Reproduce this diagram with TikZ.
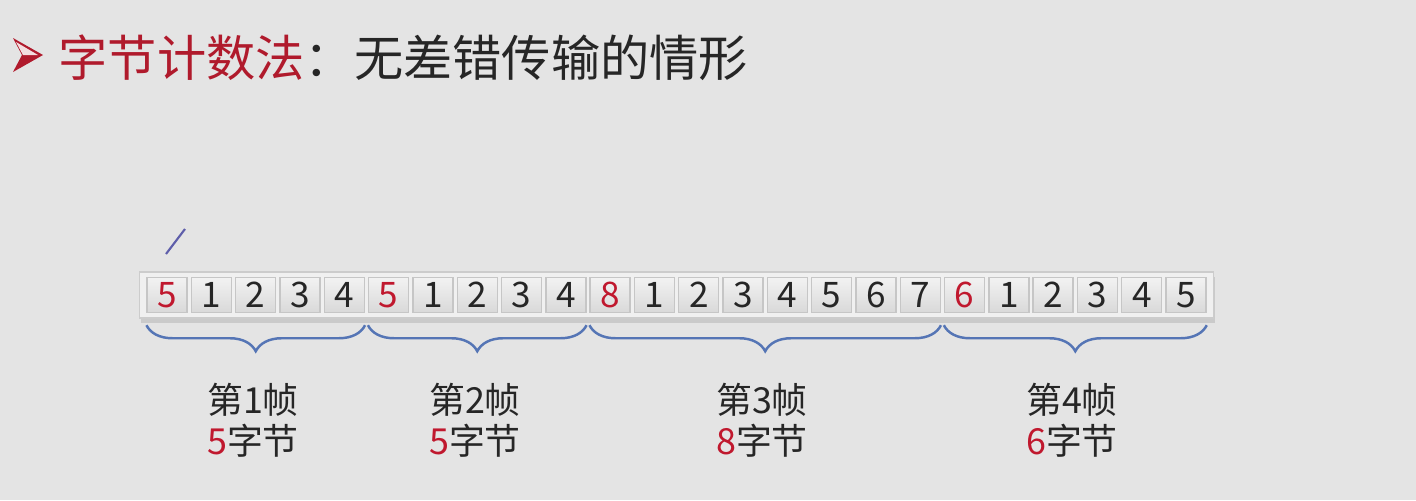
\documentclass[tikz,border=0pt]{standalone}
\usepackage{fontspec}
\setmainfont{Noto Sans CJK SC}
\usetikzlibrary{positioning,decorations.pathreplacing,shadows}

\definecolor{titlered}{HTML}{B01A2C}
\definecolor{numred}{HTML}{C0182E}
\definecolor{textdark}{HTML}{262626}
\definecolor{bracecol}{HTML}{5575B5}
\definecolor{bgcol}{HTML}{E4E4E4}

\tikzset{
	cell/.style={draw=gray!45, top color=gray!10, bottom color=gray!30, minimum width=0.40cm, minimum height=0.35cm, inner sep=0pt, text=textdark, font=\fontsize{10}{10}\selectfont},
	headcell/.style={cell, text=numred},
	framebrace/.style={draw=bracecol, line width=0.7pt, decorate, decoration={brace, mirror, amplitude=0.26cm}},
	framelabel/.style={align=center, text=textdark, font=\fontsize{10.2}{11.6}\selectfont},
}

\begin{document}
\begin{tikzpicture}[x=0.01cm, y=-0.01cm]
		\fill[bgcol] (0,0) rectangle (1416,500);
		\useasboundingbox (0,0) rectangle (1416,500);
		
		% title
		\fill[titlered] (13,38) -- (43,55) -- (13,72) -- (22,55) -- cycle;
		\fill[white!85!titlered] (16,42) -- (38,55) -- (23,55) -- cycle;
		\node[anchor=west, inner sep=0pt, font=\fontsize{14}{14}\selectfont] (title) at (58,58) {\textcolor{titlered}{字节计数法}\textcolor{textdark}{：无差错传输的情形}};
		
		% byte stream
		\node[draw=gray!40, fill=gray!12, minimum width=10.73cm, minimum height=0.46cm, drop shadow={shadow xshift=0.5pt, shadow yshift=-1.5pt, opacity=0.25}] (stream) at (676.5,295) {};
		\node[headcell] (c1) at ({145+0.5*44.3},295) {5};
		\foreach \v [count=\i from 2] in {1,2,3,4} \node[cell] (c\i) at ({145+(\i-0.5)*44.3},295) {\v};
		\node[headcell] (c6) at ({145+5.5*44.3},295) {5};
		\foreach \v [count=\i from 7] in {1,2,3,4} \node[cell] (c\i) at ({145+(\i-0.5)*44.3},295) {\v};
		\node[headcell] (c11) at ({145+10.5*44.3},295) {8};
		\foreach \v [count=\i from 12] in {1,2,3,4,5,6,7} \node[cell] (c\i) at ({145+(\i-0.5)*44.3},295) {\v};
		\node[headcell] (c19) at ({145+18.5*44.3},295) {6};
		\foreach \v [count=\i from 20] in {1,2,3,4,5} \node[cell] (c\i) at ({145+(\i-0.5)*44.3},295) {\v};
		
		% stray pen stroke
		\coordinate (pa) at (166,254);
		\coordinate (pb) at (185,229);
		\draw[bracecol!80!violet, line width=0.6pt] (pa) -- (pb);
		
		% braces
		\draw[framebrace] ([yshift=-0.12cm]c1.south west) -- ([yshift=-0.12cm]c5.south east);
		\draw[framebrace] ([yshift=-0.12cm]c6.south west) -- ([yshift=-0.12cm]c10.south east);
		\draw[framebrace] ([yshift=-0.12cm]c11.south west) -- ([yshift=-0.12cm]c18.south east);
		\draw[framebrace] ([yshift=-0.12cm]c19.south west) -- ([yshift=-0.12cm]c24.south east);
		
		% labels
		\node[framelabel] (f1) at (253,420) {第1帧\\\textcolor{numred}{5}字节};
		\node[framelabel] (f2) at (475,420) {第2帧\\\textcolor{numred}{5}字节};
		\node[framelabel] (f3) at (762,420) {第3帧\\\textcolor{numred}{8}字节};
		\node[framelabel] (f4) at (1072,420) {第4帧\\\textcolor{numred}{6}字节};
	\end{tikzpicture}
\end{document}
